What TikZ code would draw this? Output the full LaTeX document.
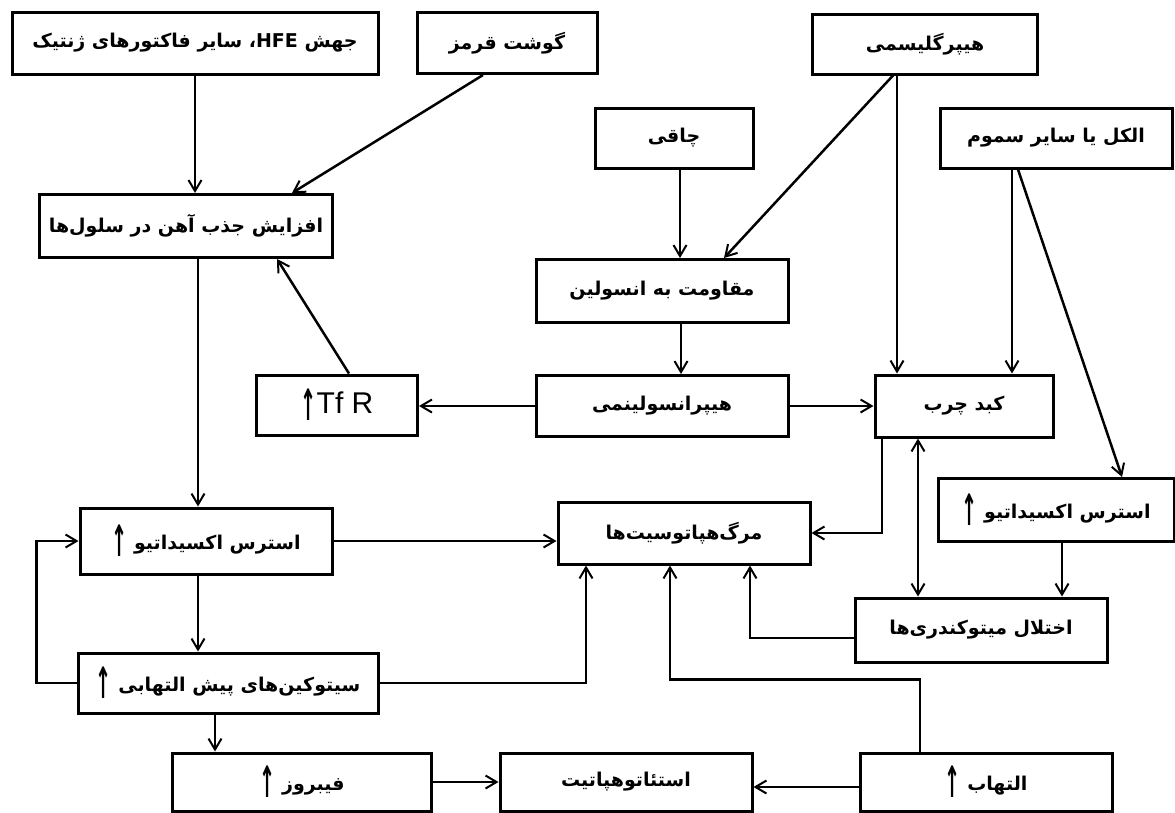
\documentclass[tikz,border=0pt]{standalone}
\usepackage{fontspec}
\usepackage{graphicx}
\usepackage{tikz}
\usetikzlibrary{positioning,arrows.meta}
\TeXXeTstate=1
\newfontfamily\fa[Script=Arabic]{DejaVu Sans}
\newfontfamily\lat{Liberation Sans}
\newcommand{\upar}{\raisebox{-7pt}{\scalebox{0.8}[1.8]{\fa\bfseries\fontsize{24}{24}\selectfont↑}}}

\begin{document}
\begin{tikzpicture}[x=1pt, y=-1pt, >={Straight Barb[length=11pt,width=13pt,line width=2pt]}]
            \tikzstyle{box} = [draw=black, line width=3pt, inner sep=0pt, font=\fa\bfseries\fontsize{19}{23}\selectfont];
            \tikzstyle{link} = [line width=2.5pt];
            \useasboundingbox (0,0) rectangle (1175,812);

            \node [box, minimum width=366, minimum height=62] (hfe) at (195,43) {\beginR جهش \beginL HFE\endL، سایر فاکتورهای ژنتیک\endR};
            \node [box, minimum width=180, minimum height=61] (meat) at (507,43) {\beginR گوشت قرمز\endR};
            \node [box, minimum width=225, minimum height=60] (hyperg) at (925,44) {\beginR هیپرگلیسمی\endR};

            \node [box, minimum width=158, minimum height=60] (obese) at (674,138) {\beginR چاقی\endR};
            \node [box, minimum width=232, minimum height=60] (alcohol) at (1056,138) {\beginR الکل یا سایر سموم\endR};

            \node [box, minimum width=293, minimum height=63] (iron) at (186,226) {\beginR افزایش جذب آهن در سلول‌ها\endR};
            \node [box, minimum width=252, minimum height=63] (insres) at (662,291) {\beginR مقاومت به انسولین\endR};

            \node [box, minimum width=161, minimum height=60, font=\lat\fontsize{30}{34}\selectfont] (tfr) at (337,405) {\upar\lat Tf R};
            \node [box, minimum width=252, minimum height=61] (hyperins) at (662,406) {\beginR هیپرانسولینمی\endR};
            \node [box, minimum width=178, minimum height=62] (fatty) at (964,406) {\beginR کبد چرب\endR};

            \node [box, minimum width=236, minimum height=63] (oxR) at (1056,510) {\upar\ \beginR استرس اکسیداتیو\endR};
            \node [box, minimum width=252, minimum height=66] (oxL) at (206,541) {\upar\ \beginR استرس اکسیداتیو\endR};
            \node [box, minimum width=252, minimum height=62] (death) at (684,533) {\beginR مرگ‌هپاتوسیت‌ها\endR};

            \node [box, minimum width=252, minimum height=64] (mito) at (981,630) {\beginR اختلال میتوکندری‌ها\endR};
            \node [box, minimum width=300, minimum height=60] (cyto) at (228,683) {\upar\ \beginR سیتوکین‌های پیش التهابی\endR};

            \node [box, minimum width=259, minimum height=58] (fib) at (302,782) {\upar\ \beginR فیبروز\endR};
            \node [box, minimum width=252, minimum height=58] (nash) at (626,782) {\beginR استئاتوهپاتیت\endR};
            \node [box, minimum width=252, minimum height=58] (infl) at (986,782) {\upar\ \beginR التهاب\endR};

            % top row
            \draw [link, ->] (hfe.south) to (hfe.south |- iron.north);
            \draw [link, ->] ([xshift=-24pt]meat.south) to ([xshift=106pt]iron.north);
            \draw [link, ->] ([xshift=-32pt]hyperg.south) to ([xshift=62pt]insres.north);
            \draw [link, ->] ([xshift=-28pt]hyperg.south) to ([xshift=-28pt]hyperg.south |- fatty.north);
            \draw [link, ->] ([xshift=6pt]obese.south) to ([xshift=6pt]obese.south |- insres.north);
            \draw [link, ->] ([xshift=-44pt]alcohol.south) to ([xshift=-44pt]alcohol.south |- fatty.north);
            \draw [link, ->] ([xshift=-38pt]alcohol.south) to ([xshift=66pt]oxR.north);

            % insulin
            \draw [link, ->] ([xshift=19pt]insres.south) to ([xshift=19pt]insres.south |- hyperins.north);
            \draw [link, ->] (hyperins.west) to (hyperins.west -| tfr.east);
            \draw [link, ->] (hyperins.east) to (hyperins.east -| fatty.west);
            \draw [link, ->] ([xshift=12pt]tfr.north) to ([xshift=91pt]iron.south);

            % towards hepatocyte death
            \draw [link, ->] ([xshift=12pt]iron.south) to ([xshift=12pt]iron.south |- oxL.north);
            \draw [link, ->] (oxL.east) to (oxL.east -| death.west);
            \draw [link, ->] ([xshift=-82pt]fatty.south) |- (death.east);
            \draw [link, <->] ([xshift=-46pt]fatty.south) to ([xshift=-46pt]fatty.south |- mito.north);
            \draw [link, ->] ([xshift=6pt]oxR.south) to ([xshift=6pt]oxR.south |- mito.north);
            \draw [link, ->] ([yshift=-8pt]mito.west) -| ([xshift=66pt]death.south);
            \draw [link, ->] ([xshift=-66pt]infl.north) -- ++(0,-72) -| ([xshift=-14pt]death.south);
            \draw [link, ->] (cyto.east) -| ([xshift=-98pt]death.south);

            % left loop and bottom row
            \draw [link, ->] ([xshift=-8pt]oxL.south) to ([xshift=-8pt]oxL.south |- cyto.north);
            \draw [link, ->] (cyto.west) -- ++(-40,0) |- (oxL.west);
            \draw [link, ->] ([xshift=-13pt]cyto.south) to ([xshift=-13pt]cyto.south |- fib.north);
            \draw [link, ->] (fib.east) to (fib.east -| nash.west);
            \draw [link, ->] ([yshift=-5pt]infl.west) to ([yshift=-5pt]infl.west -| nash.east);
        \end{tikzpicture}
\end{document}
